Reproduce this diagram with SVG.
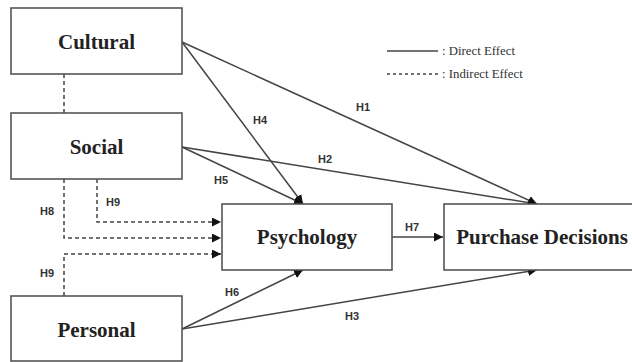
<svg xmlns="http://www.w3.org/2000/svg" width="632" height="362" viewBox="0 0 632 362">
<defs>
<marker id="ah" viewBox="0 0 10 10" refX="10" refY="5" markerWidth="9" markerHeight="9" markerUnits="userSpaceOnUse" orient="auto">
<path d="M0,0 L10,5 L0,10 Z" fill="#111"/>
</marker>
<style>
.box{fill:#fff;stroke:#555;stroke-width:1.6}
.lbl{font-family:"Liberation Serif",serif;font-weight:bold;font-size:21px;fill:#222;text-anchor:middle}
.h{font-family:"Liberation Sans",sans-serif;font-weight:bold;font-size:11px;fill:#333}
.solid{fill:none;stroke:#444;stroke-width:1.5}
.dash{fill:none;stroke:#444;stroke-width:1.5;stroke-dasharray:4,3}
.leg{font-family:"Liberation Serif",serif;font-size:12.8px;fill:#333}
</style>
</defs>
<rect width="632" height="362" fill="#fff"/>
<g id="connectors">
<line class="dash" x1="64" y1="74" x2="64" y2="113"/>
<polyline class="dash" points="64,179 64,238 221,238" marker-end="url(#ah)"/>
<polyline class="dash" points="97,179 97,222 221,222" marker-end="url(#ah)"/>
<polyline class="dash" points="64,296 64,254 221,254" marker-end="url(#ah)"/>
<line class="solid" x1="182" y1="42" x2="537" y2="204" marker-end="url(#ah)"/>
<line class="solid" x1="182" y1="42" x2="303" y2="204" marker-end="url(#ah)"/>
<line class="solid" x1="182" y1="147" x2="537" y2="204" marker-end="url(#ah)"/>
<line class="solid" x1="182" y1="147" x2="303" y2="204" marker-end="url(#ah)"/>
<line class="solid" x1="182" y1="329" x2="303" y2="270" marker-end="url(#ah)"/>
<line class="solid" x1="182" y1="329" x2="537" y2="270" marker-end="url(#ah)"/>
<line class="solid" x1="392" y1="237" x2="443" y2="237" marker-end="url(#ah)"/>
<text class="h" x="356" y="111">H1</text>
<text class="h" x="318" y="163">H2</text>
<text class="h" x="345" y="320">H3</text>
<text class="h" x="253" y="124">H4</text>
<text class="h" x="214" y="184">H5</text>
<text class="h" x="225" y="296">H6</text>
<text class="h" x="405" y="231">H7</text>
<text class="h" x="40" y="215">H8</text>
<text class="h" x="106" y="206">H9</text>
<text class="h" x="40" y="277">H9</text>
</g>
<g id="legend">
<line class="solid" x1="387" y1="51" x2="438" y2="51"/>
<text class="leg" x="442" y="55">: Direct Effect</text>
<line class="dash" x1="387" y1="74" x2="438" y2="74" style="stroke-dasharray:3,3"/>
<text class="leg" x="442" y="78">: Indirect Effect</text>
</g>
<g id="cultural">
<rect class="box" x="11" y="8" width="171" height="66"/>
<text class="lbl" x="96.5" y="49">Cultural</text>
</g>
<g id="social">
<rect class="box" x="11" y="113" width="171" height="66"/>
<text class="lbl" x="96.5" y="154">Social</text>
</g>
<g id="personal">
<rect class="box" x="11" y="296" width="171" height="65"/>
<text class="lbl" x="96.5" y="337">Personal</text>
</g>
<g id="psychology">
<rect class="box" x="222" y="204" width="170" height="66"/>
<text class="lbl" x="307" y="244">Psychology</text>
</g>
<g id="purchase">
<rect class="box" x="444" y="204" width="200" height="66"/>
<text class="lbl" x="542" y="244">Purchase Decisions</text>
</g>
</svg>
